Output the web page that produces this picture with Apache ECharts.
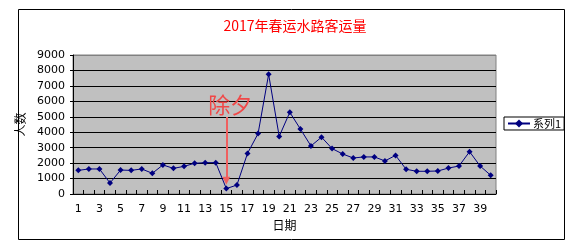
<!DOCTYPE html>
<html><head><meta charset="utf-8">
<script src="https://cdn.jsdelivr.net/npm/echarts@6/dist/echarts.min.js"></script>
<style>html,body{margin:0;padding:0;background:#fff}#c{width:569px;height:243px}</style>
</head><body><div id="c"></div>
<script>
const titleText = '2017年春运水路客运量';
const seriesName = '系列1';
const categories = [];
for (let i = 1; i <= 40; i++) categories.push(String(i));
const values = [1530, 1620, 1620, 710, 1550, 1530, 1620, 1340, 1880, 1660,
                1790, 1990, 2030, 2030, 350, 580, 2630, 3910, 7750, 3730,
                5290, 4210, 3110, 3680, 2940, 2590, 2330, 2400, 2400, 2140,
                2500, 1600, 1470, 1470, 1490, 1680, 1810, 2740, 1810, 1210];
const yTicks = [0, 1000, 2000, 3000, 4000, 5000, 6000, 7000, 8000, 9000];
const noteText = '除夕';
const noteCategory = '15';
const noteTextValue = 5800;
const arrowFrom = 4980;
const arrowTo = 850;

const chart = echarts.init(document.getElementById('c'), null, {renderer: 'canvas'});
const cjk = '"Noto Sans CJK SC", "DejaVu Sans", sans-serif';
chart.setOption({
  animation: false,
  backgroundColor: '#fff',
  title: {
    text: titleText, left: 290, top: 14, textAlign: 'center',
    textStyle: {color: '#ff0000', fontSize: 14, fontWeight: 'normal', fontFamily: cjk}
  },
  graphic: [{
    type: 'rect', left: 16, top: 7, z: -1,
    shape: {width: 546, height: 230},
    style: {fill: 'none', stroke: '#000', lineWidth: 1}
  }],
  legend: {
    data: [seriesName], left: 504, top: 117,
    orient: 'vertical',
    borderColor: '#000', borderWidth: 1, padding: [1, 3, 1, 3],
    itemWidth: 22, itemHeight: 10, itemGap: 0,
    textStyle: {fontSize: 11, color: '#000', fontFamily: cjk, padding: [0,0,0,-2]}
  },
  grid: {
    left: 73, top: 55, right: 73, bottom: 49,
    show: true, backgroundColor: '#c0c0c0', borderColor: '#808080', borderWidth: 1
  },
  xAxis: {
    type: 'category', data: categories, boundaryGap: true,
    name: '日期', nameLocation: 'middle', nameGap: 25,
    nameTextStyle: {fontSize: 12, color: '#000', fontFamily: cjk},
    axisLine: {lineStyle: {color: '#000', width: 1}},
    axisTick: {show: true, inside: true, length: 4, interval: 0, lineStyle: {color: '#000'}},
    axisLabel: {interval: 1, margin: 10, fontSize: 11, color: '#000', fontFamily: '"DejaVu Sans", sans-serif'},
    splitLine: {show: false}
  },
  yAxis: {
    type: 'value', min: yTicks[0], max: yTicks[yTicks.length - 1], interval: 1000,
    name: '人数', nameLocation: 'middle', nameGap: 40, nameRotate: 90,
    nameTextStyle: {fontSize: 12, color: '#000', fontFamily: cjk},
    axisLine: {show: true, lineStyle: {color: '#000', width: 1}},
    axisTick: {show: true, length: 3, lineStyle: {color: '#000'}},
    axisLabel: {margin: 8, fontSize: 11, color: '#000', fontFamily: '"DejaVu Sans", sans-serif',
      formatter: v => String(v)},
    splitLine: {show: true, lineStyle: {color: ['#000','#000','#000','#000','#000','#000','#000','#000','#000','#808080'], width: 1}}
  },
  series: [{
    name: seriesName, type: 'line', data: values,
    symbol: 'diamond', symbolSize: 6,
    itemStyle: {color: '#000080'},
    lineStyle: {color: '#000080', width: 1},
    markLine: {
      silent: true, symbol: ['none', 'triangle'], symbolSize: [8, 8],
      lineStyle: {color: '#f06060', width: 2, type: 'solid'},
      label: {show: false},
      data: [[{coord: [noteCategory, arrowFrom]}, {coord: [noteCategory, arrowTo]}]]
    },
    markPoint: {
      silent: true, symbol: 'circle', symbolSize: 0,
      label: {show: true, formatter: noteText, fontSize: 22, color: '#f04848', fontFamily: cjk, offset: [4, 0]},
      data: [{coord: [noteCategory, noteTextValue], value: noteText}]
    }
  }]
});
</script></body></html>
